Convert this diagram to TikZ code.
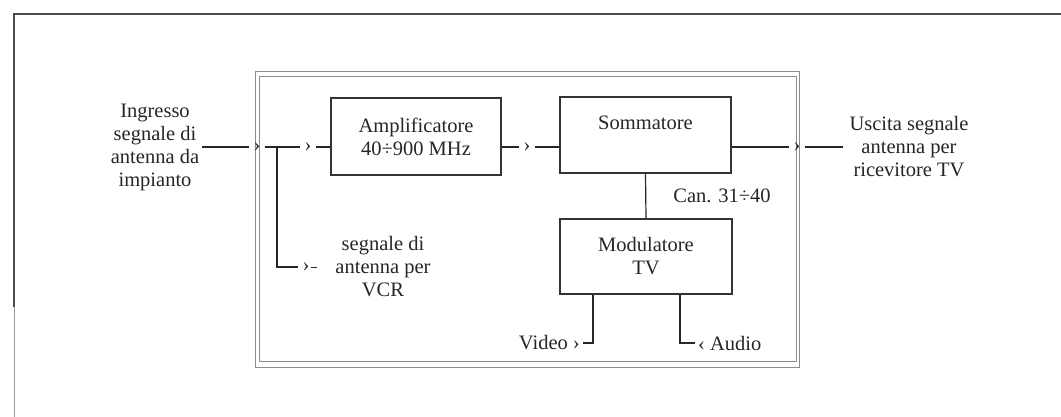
\documentclass[tikz,border=0pt]{standalone}
\usepackage{fontspec}
\setmainfont{Liberation Serif}
\begin{document}
\begin{tikzpicture}[x=1pt,y=-1pt,
  every node/.style={text=black!85},
  lbl/.style={font=\fontsize{20.5}{23}\selectfont, align=center, inner sep=0pt},
  block/.style={draw=black!80, line width=1.2pt, minimum width=170pt, inner sep=0pt},
  plug/.style={font=\fontsize{20.5}{23}\selectfont, inner sep=0pt, minimum width=15pt, minimum height=8pt},
  wire/.style={draw=black!85, line width=1.2pt},
  frame/.style={draw=black!45, line width=1pt}]
\useasboundingbox (0,0) rectangle (1061,417);

% page border
\draw[draw=black!70, line width=1.2pt] (14,307) -- (14,14) -- (1061,14);
\draw[draw=black!40, line width=1pt] (14,307) -- (14,417);

% double enclosure
\draw[frame] (255,72) rectangle (799,367);
\draw[frame] (259,77) rectangle (796,361);

% blocks
\node[block, lbl, minimum width=170pt, minimum height=77pt] (amp) at (416,136.5) {Amplificatore\\40÷900 MHz};
\node[block, minimum width=171pt, minimum height=76pt] (somm) at (645.5,135) {};
\node[lbl] (sommtxt) at (645.5,123) {Sommatore};
\node[block, lbl, minimum width=172pt, minimum height=75pt] (mod) at (646,256.5) {Modulatore\\TV};

% connector plugs
\node[plug] (p1) at (257,147) {›};
\node[plug] (p2) at (308,147) {›};
\node[plug] (p3) at (527,147) {›};
\node[plug] (p4) at (797,147) {›};
\node[plug] (p5) at (306,267) {›};

% labels
\node[lbl] (inlab) at (155,147) {Ingresso\\segnale di\\antenna da\\impianto};
\node[lbl] (outlab) at (909,147) {Uscita segnale\\antenna per\\ricevitore TV};
\node[lbl] (vcrlab) at (383,267) {segnale di\\antenna per\\VCR};
\node[lbl] (canlab) at (722,196) {Can. 31÷40};
\node[lbl, anchor=east, inner sep=3pt] (vidlab) at (583,343) {Video ›};
\node[lbl, anchor=west, inner sep=3pt] (audlab) at (695,343) {‹ Audio};

% wiring points
\coordinate (in0) at (202,147);
\coordinate (out0) at (843,147);
\coordinate (br) at (277,147);
\coordinate (brc) at (277,267);
\coordinate (d1) at (311,267);
\coordinate (d2) at (317,267);
\coordinate (vid) at (593,343);
\coordinate (aud) at (680,343);

% signal path
\draw[wire] (in0) -- (p1);
\draw[wire] (p1) -- (p2);
\draw[wire] (p2) -- (amp.west |- p2);
\draw[wire] (amp.east |- p3) -- (p3);
\draw[wire] (p3) -- (somm.west |- p3);
\draw[wire] (somm.east |- p4) -- (p4);
\draw[wire] (p4) -- (out0);
\draw[wire] (br) -- (brc) -- (p5);
\draw[wire, line width=1pt] (d1) -- (d2);
\draw[wire] (somm.south) -- (mod.north);
\draw[wire] (mod.south -| vid) -- (vid) -- (vidlab.east);
\draw[wire] (mod.south -| aud) -- (aud) -- (audlab.west);
\end{tikzpicture}
\end{document}
